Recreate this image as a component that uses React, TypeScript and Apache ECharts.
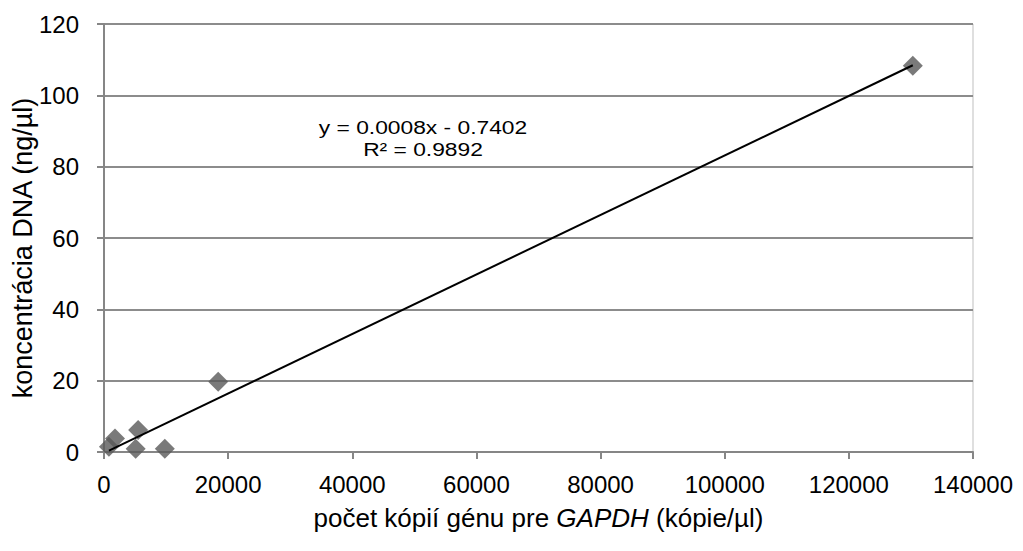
import React, { useEffect, useRef } from "react";
import * as echarts from "echarts";

const copies = [800, 1770, 5100, 5500, 9800, 18400, 130300];
const dnaConc = [1.5, 3.8, 0.9, 6.2, 0.9, 19.7, 108.3];
const xTicks = [0, 20000, 40000, 60000, 80000, 100000, 120000, 140000];
const yTicks = [0, 20, 40, 60, 80, 100, 120];
const equationLines = ["y = 0.0008x - 0.7402", "R² = 0.9892"];

function fitLine(xs: number[], ys: number[]) {
  const n = xs.length;
  const mx = xs.reduce((a, b) => a + b, 0) / n;
  const my = ys.reduce((a, b) => a + b, 0) / n;
  let sxy = 0;
  let sxx = 0;
  for (let i = 0; i < n; i++) {
    sxy += (xs[i] - mx) * (ys[i] - my);
    sxx += (xs[i] - mx) * (xs[i] - mx);
  }
  const slope = sxy / sxx;
  const intercept = my - slope * mx;
  const x0 = Math.min(...xs);
  const x1 = Math.max(...xs);
  return [
    [x0, slope * x0 + intercept],
    [x1, slope * x1 + intercept],
  ];
}

export default function App() {
  const ref = useRef<HTMLDivElement>(null);
  useEffect(() => {
    document.body.style.margin = "0";
    const chart = echarts.init(ref.current!, null, { renderer: "svg" });
    const font = "Arial, 'Liberation Sans', sans-serif";
    const points = copies.map((x, i) => [x, dnaConc[i]]);
    chart.setOption({
      animation: false,
      backgroundColor: "#ffffff",
      grid: {
        left: 104,
        right: 50,
        top: 24,
        bottom: 99,
        show: true,
        borderColor: "#bfbfbf",
        borderWidth: 1,
        containLabel: false,
        outerBoundsMode: "none",
      },
      xAxis: {
        type: "value",
        min: xTicks[0],
        max: xTicks[xTicks.length - 1],
        interval: 20000,
        name: "počet kópií génu pre {i|GAPDH} (kópie/µl)",
        nameLocation: "middle",
        nameGap: 53,
        nameMoveOverlap: false,
        nameTextStyle: {
          fontFamily: font,
          fontSize: 26,
          color: "#000",
          rich: {
            i: { fontFamily: font, fontSize: 26, fontStyle: "italic", color: "#000" },
          },
        },
        axisLine: { show: true, lineStyle: { color: "#868686", width: 2 } },
        axisTick: { show: true, length: 7, lineStyle: { color: "#868686", width: 2 } },
        axisLabel: {
          fontFamily: font,
          fontSize: 24,
          color: "#000",
          margin: 20,
          formatter: (v: number) => String(v),
        },
        splitLine: { show: false },
      },
      yAxis: {
        type: "value",
        min: yTicks[0],
        max: yTicks[yTicks.length - 1],
        interval: 20,
        name: "koncentrácia DNA (ng/µl)",
        nameLocation: "middle",
        nameGap: 68,
        nameMoveOverlap: false,
        nameTextStyle: { fontFamily: font, fontSize: 27, color: "#000", padding: [0, 20, 0, 0] },
        axisLine: { show: true, lineStyle: { color: "#868686", width: 2 } },
        axisTick: { show: true, length: 7, lineStyle: { color: "#868686", width: 2 } },
        axisLabel: {
          fontFamily: font,
          fontSize: 24,
          color: "#000",
          margin: 25,
          formatter: (v: number) => String(v),
        },
        splitLine: { show: true, lineStyle: { color: "#8c8c8c", width: 2 } },
      },
      series: [
        {
          type: "line",
          data: fitLine(copies, dnaConc),
          showSymbol: false,
          symbol: "none",
          lineStyle: { color: "#000", width: 2 },
          z: 3,
        },
        {
          type: "scatter",
          data: points,
          symbol: "diamond",
          symbolSize: 20,
          itemStyle: { color: "#595959" },
          z: 2,
        },
      ],
      graphic: [
        {
          type: "text",
          x: 423,
          y: 127,
          scaleX: 1.2,
          style: {
            text: equationLines[0],
            font: `19px ${font}`,
            fill: "#000",
            textAlign: "center",
            textVerticalAlign: "middle",
          },
        },
        {
          type: "text",
          x: 423,
          y: 149,
          scaleX: 1.2,
          style: {
            text: equationLines[1],
            font: `19px ${font}`,
            fill: "#000",
            textAlign: "center",
            textVerticalAlign: "middle",
          },
        },
      ],
    });
    return () => chart.dispose();
  }, []);
  return <div ref={ref} style={{ width: 1023, height: 551 }} />;
}
